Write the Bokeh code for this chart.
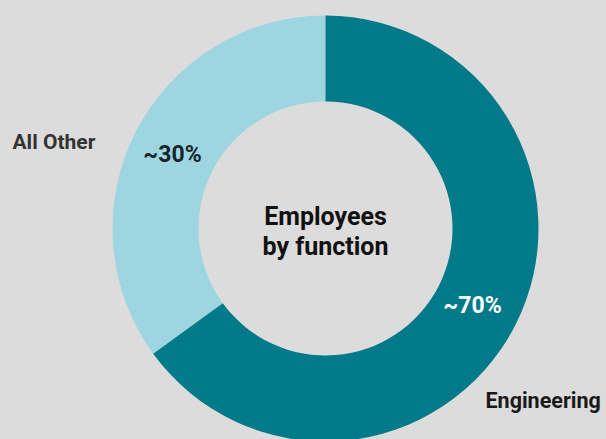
from math import pi
from bokeh.plotting import figure
from bokeh.models import Range1d, ColumnDataSource
from bokeh.core.properties import value
from bokeh.embed import file_html
from bokeh.resources import INLINE

# Data
categories = ["All Other", "Engineering"]
shares = [35, 65]          # drawn proportions
pct_labels = ["~30%", "~70%"]
center_title = ["Employees", "by function"]
colors = ["#9dd6e0", "#037a8a"]

W, H = 606, 439
BG = "#dcdcdc"

p = figure(width=W, height=H, output_backend="svg", toolbar_location=None,
           x_range=Range1d(0, W), y_range=Range1d(0, H), min_border=0)
p.axis.visible = False
p.grid.visible = False
p.outline_line_color = None
p.background_fill_color = BG
p.border_fill_color = BG

cx, cy = 325, H - 228
total = sum(shares)
starts, ends = [], []
a = pi / 2
for s in shares:
    starts.append(a)
    a += 2 * pi * s / total
    ends.append(a)

src = ColumnDataSource(dict(cat=categories, start=starts, end=ends, color=colors))
p.annular_wedge(x=cx, y=cy, inner_radius=127, outer_radius=213,
                start_angle="start", end_angle="end", fill_color="color",
                line_color=None, source=src)

font = value("Roboto")
# category labels
p.text(x=[12], y=[H - 141], text=[categories[0]], text_font=font, text_font_style="bold",
       text_font_size="21px", text_color="#333333", text_baseline="middle", text_align="left")
p.text(x=[485], y=[H - 400], text=[categories[1]], text_font=font, text_font_style="bold",
       text_font_size="21.5px", text_color="#1a1a1a", text_baseline="middle", text_align="left")
# percentage labels
p.text(x=[172], y=[H - 154], text=[pct_labels[0]], text_font=font, text_font_style="bold",
       text_font_size="23px", text_color="#18262c", text_baseline="middle", text_align="center")
p.text(x=[472], y=[H - 305], text=[pct_labels[1]], text_font=font, text_font_style="bold",
       text_font_size="23px", text_color="#ffffff", text_baseline="middle", text_align="center")
# center title
p.text(x=[cx, cx], y=[H - 216, H - 246], text=center_title, text_font=font,
       text_font_style="bold", text_font_size="25px", text_color="#111111",
       text_baseline="middle", text_align="center")

html = file_html(p, INLINE)
html = html.replace("<body>", '<body style="background:%s">' % BG)
open("out.html", "w").write(html)
